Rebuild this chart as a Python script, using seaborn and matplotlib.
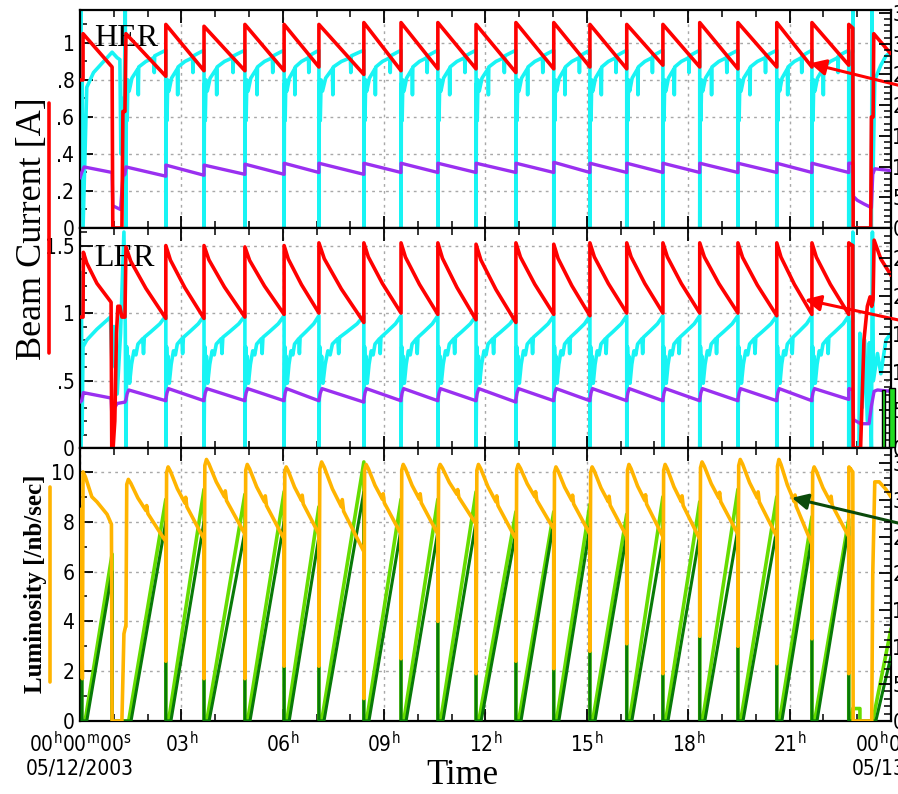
import matplotlib
matplotlib.use("Agg")
import matplotlib.pyplot as plt
import seaborn as sns
from matplotlib import font_manager
from matplotlib.ticker import MultipleLocator, FixedLocator, FixedFormatter
from matplotlib.patches import Rectangle
from matplotlib.lines import Line2D
from matplotlib.transforms import ScaledTranslation

# ---------------- data (hours after 00:00 05/12/2003) ----------------
inject_h = [1.36, 2.54, 3.67, 4.88, 6.04, 7.07, 8.40, 9.50, 10.59, 11.72,
            12.90, 14.02, 15.09, 16.18, 17.25, 18.34, 19.47, 20.62, 21.66, 22.75]
abort_h = 22.87

# HER current (red) per cycle
her_peak = [1.05, 1.10, 1.09, 1.10, 1.10, 1.10, 1.11, 1.11, 1.11, 1.10,
            1.11, 1.11, 1.10, 1.10, 1.10, 1.11, 1.11, 1.11, 1.11, 1.10]
her_end = [0.82, 0.85, 0.85, 0.85, 0.87, 0.83, 0.85, 0.86, 0.86, 0.84,
           0.86, 0.87, 0.86, 0.88, 0.87, 0.86, 0.87, 0.87, 0.88, 1.08]
her_start_t = [0.00, 0.09, 0.09, 0.95, 0.97, 1.24, 1.27, 1.33]
her_start_v = [0.80, 0.80, 1.05, 0.87, 0.00, 0.00, 0.63, 0.63]
her_tail_t = [22.88, 23.40, 23.42, 23.47, 23.49, 24.0]
her_tail_v = [0.00, 0.00, 0.60, 0.60, 1.05, 0.94]

# HER second trace (purple)
herp_peak = [0.33, 0.34, 0.34, 0.345, 0.35, 0.35, 0.35, 0.35, 0.35, 0.35,
             0.35, 0.355, 0.35, 0.35, 0.35, 0.35, 0.35, 0.35, 0.35, 0.35]
herp_end = [0.28, 0.285, 0.29, 0.29, 0.30, 0.29, 0.30, 0.30, 0.30, 0.30,
            0.30, 0.30, 0.30, 0.30, 0.30, 0.30, 0.30, 0.30, 0.30, 0.35]
herp_start_t = [0.00, 0.05, 0.12, 0.95, 0.97, 1.20, 1.27, 1.33]
herp_start_v = [0.27, 0.30, 0.33, 0.30, 0.12, 0.10, 0.28, 0.29]
herp_tail_t = [22.89, 23.00, 23.20, 23.42, 23.46, 23.52, 24.0]
herp_tail_v = [0.17, 0.15, 0.13, 0.11, 0.29, 0.32, 0.31]

# HER third trace (cyan) : shape within one fill cycle
herc_frac = [0.00, 0.01, 0.03, 0.05, 0.08, 0.15, 0.30, 0.31, 0.32, 0.50, 0.70, 0.71, 0.72, 0.90, 1.00]
herc_val = [0.00, 0.78, 0.58, 0.80, 0.74, 0.81, 0.86, 0.72, 0.87, 0.90, 0.92, 0.84, 0.93, 0.95, 0.96]
herc_start_t = [0.00, 0.02, 0.04, 0.06, 0.09, 0.20, 0.40, 0.70, 0.95, 1.10, 1.18, 1.21, 1.25, 1.30, 1.34]
herc_start_v = [0.75, 1.18, 0.65, 0.95, 0.00, 0.76, 0.84, 0.90, 0.95, 0.92, 0.91, 0.40, 0.70, 0.55, 1.18]
herc_tail_t = [22.87, 22.88, 23.42, 23.44, 23.47, 23.52, 23.70, 23.85, 24.0]
herc_tail_v = [1.18, 0.00, 0.00, 1.18, 0.30, 0.80, 0.88, 0.93, 0.95]

# LER current (red)
ler_peak = [1.49, 1.50, 1.50, 1.49, 1.50, 1.52, 1.52, 1.52, 1.52, 1.51,
            1.52, 1.51, 1.52, 1.52, 1.52, 1.52, 1.52, 1.52, 1.52, 1.52]
ler_end = [0.96, 0.96, 0.97, 0.99, 1.00, 0.93, 1.00, 0.99, 0.95, 0.93,
           0.99, 0.98, 1.00, 1.00, 1.00, 1.00, 0.98, 0.99, 0.99, 1.50]
ler_decay_frac = [0.0, 0.12, 0.50, 1.0]
ler_decay_drop = [0.0, 0.20, 0.58, 1.0]
ler_start_t = [0.00, 0.09, 0.10, 0.20, 0.50, 0.92, 0.94, 0.98, 1.03, 1.08, 1.12, 1.18, 1.24, 1.33]
ler_start_v = [0.97, 0.97, 1.45, 1.37, 1.22, 1.08, 0.00, 0.00, 0.20, 0.85, 1.05, 1.05, 0.97, 0.97]
ler_tail_t = [22.88, 23.10, 23.20, 23.30, 23.38, 23.43, 23.47, 23.50, 23.70, 24.0]
ler_tail_v = [0.00, 0.00, 0.80, 1.05, 1.12, 1.05, 1.10, 1.54, 1.40, 1.28]

# LER second trace (purple)
lerp_peak = [0.43, 0.44, 0.44, 0.44, 0.44, 0.44, 0.44, 0.44, 0.44, 0.44,
             0.44, 0.44, 0.44, 0.44, 0.44, 0.44, 0.44, 0.44, 0.44, 0.44]
lerp_end = [0.35, 0.35, 0.35, 0.35, 0.35, 0.34, 0.35, 0.35, 0.35, 0.34,
            0.35, 0.35, 0.35, 0.35, 0.35, 0.35, 0.35, 0.35, 0.36, 0.43]
lerp_frac = [0.0, 0.03, 0.07, 1.0]
lerp_drop = [0.9, 0.35, 0.0, 1.0]
lerp_start_t = [0.00, 0.05, 0.10, 0.92, 0.95, 1.03, 1.10, 1.33]
lerp_start_v = [0.34, 0.35, 0.41, 0.37, 0.20, 0.30, 0.33, 0.34]
lerp_tail_t = [22.89, 23.10, 23.35, 23.42, 23.50, 23.60, 24.0]
lerp_tail_v = [0.21, 0.18, 0.18, 0.31, 0.42, 0.43, 0.42]

# LER third trace (cyan)
lerc_frac = [0.00, 0.02, 0.04, 0.06, 0.09, 0.14, 0.20, 0.25, 0.30, 0.42, 0.44, 0.46, 0.62, 0.85, 1.00]
lerc_val = [0.00, 0.75, 0.55, 0.68, 0.48, 0.62, 0.72, 0.69, 0.77, 0.81, 0.70, 0.82, 0.86, 0.92, 0.98]
lerc_start_t = [0.00, 0.02, 0.04, 0.06, 0.09, 0.20, 0.50, 0.90, 0.95, 1.00, 1.10, 1.20, 1.30, 1.34]
lerc_start_v = [1.30, 0.00, 1.30, 0.10, 0.75, 0.80, 0.88, 0.97, 0.60, 0.90, 0.40, 0.85, 1.60, 0.90]
lerc_tail_t = [22.87, 22.88, 23.05, 23.08, 23.15, 23.22, 23.30, 23.36, 23.42, 23.45, 23.48, 23.60, 23.70, 23.85, 24.0]
lerc_tail_v = [1.60, 0.00, 0.00, 0.85, 0.30, 0.80, 0.20, 0.78, 0.00, 1.60, 0.50, 0.70, 0.55, 0.80, 0.85]

# Luminosity (orange)
lum_dip = [3.8, 2.4, 1.7, 1.7, 2.2, 2.2, 0.9, 2.5, 4.0, 1.9,
           2.4, 2.1, 2.8, 3.1, 1.9, 3.4, 3.0, 2.3, 3.3, 1.9]
lum_peak = [9.7, 10.2, 10.5, 10.3, 10.2, 10.4, 10.3, 10.3, 10.3, 10.3,
            10.3, 10.2, 10.2, 10.3, 10.3, 10.4, 10.5, 10.5, 10.2, 10.2]
lum_end = [7.2, 7.3, 7.5, 7.3, 7.5, 6.8, 7.5, 7.5, 7.9, 7.3,
           7.7, 7.5, 7.4, 7.4, 7.3, 7.5, 7.4, 7.1, 7.4, 10.0]
lum_frac = [0.02, 0.06, 0.12, 0.30, 0.50, 0.52, 0.55, 0.70, 0.90, 1.00]
lum_drop = [0.08, 0.00, 0.06, 0.30, 0.50, 0.42, 0.55, 0.70, 0.90, 1.00]
lum_start_t = [0.00, 0.03, 0.07, 0.09, 0.16, 0.35, 0.50, 0.80, 0.93, 0.95, 1.24, 1.30, 1.35]
lum_start_v = [6.7, 8.5, 1.7, 10.0, 9.8, 9.0, 8.8, 8.3, 7.9, 0.0, 0.0, 3.5, 3.8]
lum_tail_t = [22.88, 23.43, 23.46, 23.52, 23.65, 23.85, 24.0]
lum_tail_v = [0.0, 0.0, 5.9, 9.6, 9.6, 9.3, 9.0]

# Integrated luminosity ramps (light green / dark green)
lime_end = [8.9, 9.3, 9.1, 9.2, 8.6, 10.4, 8.9, 8.9, 9.2, 8.4,
            8.4, 8.7, 8.3, 9.0, 8.8, 9.3, 9.0, 8.2, 8.1, 0.5]
dark_end = [8.0, 8.0, 7.6, 8.0, 7.4, 9.2, 7.7, 7.6, 8.0, 7.6,
            8.0, 7.8, 7.5, 7.4, 7.5, 7.7, 7.7, 7.4, 7.8, 0.0]
lime_delay_h = 0.08
dark_delay_h = 0.15
lime_start_t = [0.00, 0.05, 0.05, 0.15, 0.95, 0.95]
lime_start_v = [8.6, 8.6, 0.0, 0.0, 6.7, 0.0]
dark_start_t = [0.00, 0.06, 0.06, 0.20, 0.95, 0.95]
dark_start_v = [8.0, 8.0, 0.0, 0.0, 6.0, 0.0]
lime_tail_t = [23.08, 23.08, 23.46, 24.0]
lime_tail_v = [0.5, 0.0, 0.0, 3.7]
dark_tail_t = [22.88, 23.55, 24.0]
dark_tail_v = [0.0, 0.0, 2.6]

# tick labels
x_ticks_h = [0, 3, 6, 9, 12, 15, 18, 21, 24]
x_tick_labels = ["00$^{h}$00$^{m}$00$^{s}$\n05/12/2003", "03$^{h}$", "06$^{h}$", "09$^{h}$",
                 "12$^{h}$", "15$^{h}$", "18$^{h}$", "21$^{h}$", "00$^{h}$00$^{m}$00$^{s}$\n05/13/2003"]
her_ticks = [0, 0.2, 0.4, 0.6, 0.8, 1.0]
her_tick_labels = ["0", ".2", ".4", ".6", ".8", "1"]
ler_ticks = [0, 0.5, 1.0, 1.5]
ler_tick_labels = ["0", ".5", "1", "1.5"]
lum_ticks = [0, 2, 4, 6, 8, 10]
lum_tick_labels = ["0", "2", "4", "6", "8", "10"]

# ---------------- helpers to assemble fill cycles ----------------
stops = inject_h[1:] + [abort_h]


def decay(peaks, ends, frac, drop):
    t, v = [], []
    for t0, t1, p, e in zip(inject_h, stops, peaks, ends):
        for f, d in zip(frac, drop):
            t.append(t0 + f * (t1 - t0))
            v.append(p - d * (p - e))
    return t, v


def pattern(frac, vals):
    t, v = [], []
    for t0, t1 in zip(inject_h, stops):
        for f, val in zip(frac, vals):
            t.append(t0 + f * (t1 - t0))
            v.append(val)
    return t, v


def ramps(ends, delay):
    t, v = [], []
    for t0, t1, e in zip(inject_h, stops, ends):
        t += [t0, min(t0 + delay, t1), t1]
        v += [0.0, 0.0, e]
    return t, v


def lum_cycles():
    t, v = [], []
    for t0, t1, dp, p, e in zip(inject_h, stops, lum_dip, lum_peak, lum_end):
        t.append(t0)
        v.append(dp)
        for f, d in zip(lum_frac, lum_drop):
            t.append(t0 + f * (t1 - t0))
            v.append(p - d * (p - e))
    return t, v


def join(st, sv, mid, tt, tv):
    return st + mid[0] + tt, sv + mid[1] + tv


# ---------------- style ----------------
sns.set_theme(style="white")
names = {f.name for f in font_manager.fontManager.ttflist}
TICKF = "Liberation Sans Narrow" if "Liberation Sans Narrow" in names else "DejaVu Sans"
SERIF = "Liberation Serif"
plt.rcParams["font.family"] = [TICKF, "DejaVu Sans"]
plt.rcParams["font.stretch"] = "condensed"
plt.rcParams["mathtext.fontset"] = "custom"
for key in ["rm", "it", "bf", "sf"]:
    plt.rcParams["mathtext." + key] = TICKF + ":stretch=condensed"

RED = "#ff0000"
CYAN = "#18f4f4"
PURPLE = "#9a30f0"
ORANGE = "#ffb400"
LIME = "#66dd00"
DGREEN = "#087a08"
GRIDC = "#a8a8a8"
TICK_FS = 15

fig = plt.figure(figsize=(8.98, 7.94), dpi=100)
L = 80 / 898
W = (891 - 80) / 898


def fy(px):
    return 1 - px / 794


ax1 = fig.add_axes([L, fy(228), W, (228 - 10) / 794])
ax2 = fig.add_axes([L, fy(448), W, (448 - 228) / 794])
ax3 = fig.add_axes([L, fy(721), W, (721 - 448) / 794])


def line(ax, t, v, color, lw, z=2):
    sns.lineplot(x=t, y=v, ax=ax, color=color, linewidth=lw, sort=False,
                 estimator=None, legend=False, zorder=z)


# HER panel
t, v = join(herc_start_t, herc_start_v, pattern(herc_frac, herc_val), herc_tail_t, herc_tail_v)
line(ax1, t, v, CYAN, 2.6, 2)
t, v = join(herp_start_t, herp_start_v, decay(herp_peak, herp_end, [0, 1], [0, 1]), herp_tail_t, herp_tail_v)
line(ax1, t, v, PURPLE, 2.4, 3)
t, v = join(her_start_t, her_start_v, decay(her_peak, her_end, [0, 1], [0, 1]), her_tail_t, her_tail_v)
line(ax1, t, v, RED, 2.6, 4)

# LER panel
t, v = join(lerc_start_t, lerc_start_v, pattern(lerc_frac, lerc_val), lerc_tail_t, lerc_tail_v)
line(ax2, t, v, CYAN, 2.6, 2)
t, v = join(lerp_start_t, lerp_start_v, decay(lerp_peak, lerp_end, lerp_frac, lerp_drop), lerp_tail_t, lerp_tail_v)
line(ax2, t, v, PURPLE, 2.4, 3)
t, v = join(ler_start_t, ler_start_v, decay(ler_peak, ler_end, ler_decay_frac, ler_decay_drop), ler_tail_t, ler_tail_v)
line(ax2, t, v, RED, 2.6, 4)

# Luminosity panel
t, v = join(lime_start_t, lime_start_v, ramps(lime_end, lime_delay_h), lime_tail_t, lime_tail_v)
line(ax3, t, v, LIME, 2.6, 2)
t, v = join(dark_start_t, dark_start_v, ramps(dark_end, dark_delay_h), dark_tail_t, dark_tail_v)
line(ax3, t, v, DGREEN, 2.2, 3)
t, v = join(lum_start_t, lum_start_v, lum_cycles(), lum_tail_t, lum_tail_v)
line(ax3, t, v, ORANGE, 2.6, 4)

# axes styling
ylims = [(0, 1.178), (0, 1.63), (0, 10.96)]
yticks = [(her_ticks, her_tick_labels, 0.1), (ler_ticks, ler_tick_labels, 0.1), (lum_ticks, lum_tick_labels, 1)]
rlims = [355, 290, 370]
for ax, yl, (tk, tl, mn), rl in zip([ax1, ax2, ax3], ylims, yticks, rlims):
    ax.set_xlim(0, 24)
    ax.set_ylim(*yl)
    ax.set_xlabel("")
    ax.set_ylabel("")
    ax.xaxis.set_major_locator(FixedLocator(x_ticks_h))
    ax.xaxis.set_minor_locator(MultipleLocator(1))
    ax.yaxis.set_major_locator(FixedLocator(tk))
    ax.yaxis.set_major_formatter(FixedFormatter(tl))
    ax.yaxis.set_minor_locator(MultipleLocator(mn))
    ax.grid(True, which="major", color=GRIDC, linestyle=(0, (2, 3)), linewidth=1.0)
    for s in ax.spines.values():
        s.set_color("black")
        s.set_linewidth(1.6)
    ax.tick_params(axis="both", which="both", direction="in", top=True, bottom=True,
                   left=True, right=False, colors="black", labelsize=TICK_FS, pad=4)
    ax.tick_params(which="major", length=9, width=1.3)
    ax.tick_params(which="minor", length=5, width=1.1)
    r = ax.twinx()
    r.set_ylim(0, rl)
    r.yaxis.set_major_locator(MultipleLocator(50))
    r.yaxis.set_minor_locator(MultipleLocator(10))
    r.tick_params(axis="y", which="both", direction="in", right=True, left=False,
                  labelsize=TICK_FS, pad=1, colors="black")
    r.tick_params(which="major", length=9, width=1.3)
    r.tick_params(which="minor", length=5, width=1.1)
    r.grid(False)
    for s in r.spines.values():
        s.set_visible(False)

ax1.tick_params(labelbottom=False)
ax2.tick_params(labelbottom=False)
ax3.set_xticks(x_ticks_h)
ax3.set_xticklabels(x_tick_labels, fontsize=TICK_FS, linespacing=1.15)
ax3.tick_params(axis="x", which="major", pad=7)
last = ax3.get_xticklabels()[-1]
last.set_transform(last.get_transform() + ScaledTranslation(15 / 100, 0, fig.dpi_scale_trans))

# panel names
ax1.text(0.018, 0.935, "HER", transform=ax1.transAxes, ha="left", va="top",
         fontsize=23, family=SERIF, stretch="normal", color="black")
ax2.text(0.018, 0.925, "LER", transform=ax2.transAxes, ha="left", va="top",
         fontsize=23, family=SERIF, stretch="normal", color="black")

# axis titles
fig.text(33 / 898, fy(229), "Beam Current [A]", rotation=90, ha="center", va="center",
         fontsize=26, family=SERIF, stretch="normal", color="black")
fig.add_artist(Line2D([49 / 898, 49 / 898], [fy(103), fy(353)], color=RED, lw=2.6,
                      transform=fig.transFigure))
fig.text(36 / 898, fy(584), "Luminosity [/nb/sec]", rotation=90, ha="center", va="center",
         fontsize=18, family=SERIF, stretch="normal", fontweight="bold", color="black")
fig.add_artist(Line2D([50 / 898, 50 / 898], [fy(487), fy(682)], color=ORANGE, lw=2.6,
                      transform=fig.transFigure))
fig.text(462 / 898, fy(775), "Time", ha="center", va="center", fontsize=25,
         family=SERIF, stretch="normal", color="black")

# pointer arrows
for ax, xy, yfrac, col in [(ax1, (21.6, 0.89), 0.608, RED),
                           (ax2, (21.45, 1.10), 0.541, RED),
                           (ax3, (21.07, 8.96), 0.689, "#0a4a0a")]:
    ax.annotate("", xy=xy, xycoords="data", xytext=(1.06, yfrac), textcoords="axes fraction",
                arrowprops=dict(arrowstyle="-|>", color=col, lw=2.2, mutation_scale=24,
                                shrinkA=0, shrinkB=0),
                annotation_clip=False, zorder=10)

# partial legend boxes at right edge
for x0, w, top in [(882, 3, 390), (889, 6, 388)]:
    fig.add_artist(Rectangle((x0 / 898, fy(447)), w / 898, (447 - top) / 794,
                             transform=fig.transFigure, facecolor="#22dd22",
                             edgecolor="black", linewidth=1.0))

fig.savefig("out.png", dpi=100)
